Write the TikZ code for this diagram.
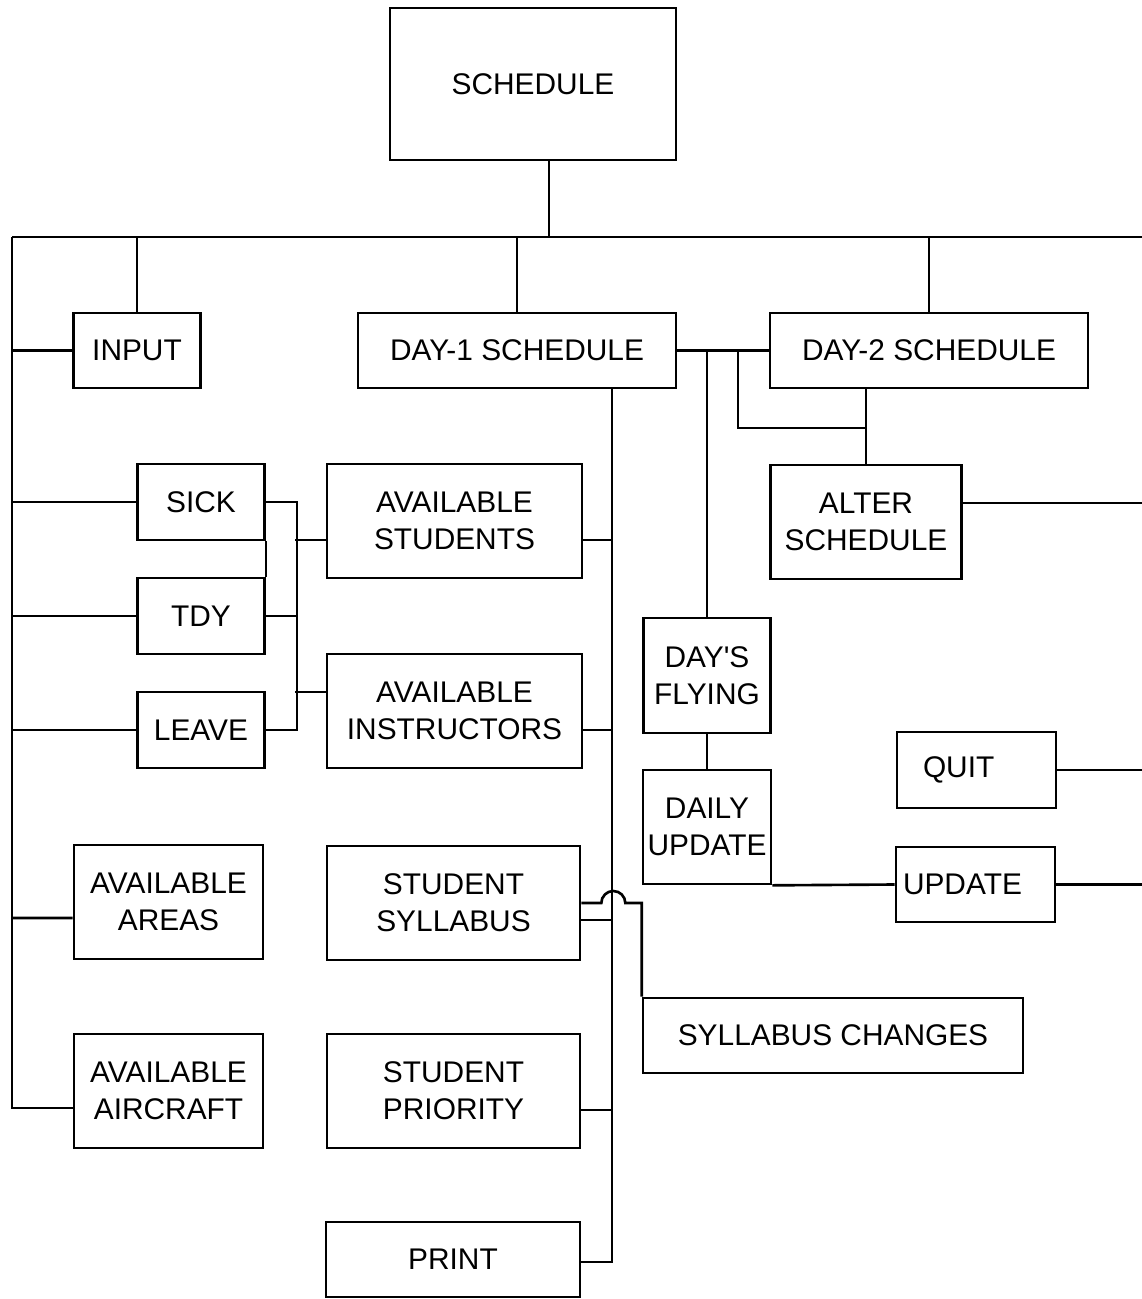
\documentclass[tikz,border=0pt]{standalone}
\usepackage{fontspec}
\setmainfont{Liberation Sans}
\begin{document}
\begin{tikzpicture}[x=0.02cm, y=-0.02cm, line width=1.5pt,
  box/.style={draw, rectangle, inner sep=0pt, align=center, font=\fontsize{17}{21}\selectfont},
  sz/.style 2 args={minimum width=#1*0.02cm, minimum height=#2*0.02cm}]
\useasboundingbox (0, 0) rectangle (1142, 1299);
% boxes
\node [box, sz={286}{152}] (sched) at (533, 84) {SCHEDULE};
\node [box, sz={127}{75}] (input) at (137, 350.5) {INPUT};
\node [box, sz={318}{75}] (dayone) at (517, 350.5) {DAY-1 SCHEDULE};
\node [box, sz={318}{75}] (daytwo) at (929, 350.5) {DAY-2 SCHEDULE};
\node [box, sz={127}{76}] (sick) at (201, 502) {SICK};
\node [box, sz={127}{76}] (tdy) at (201, 616) {TDY};
\node [box, sz={127}{76}] (leave) at (201, 730) {LEAVE};
\node [box, sz={255}{114}] (avstud) at (454.5, 521) {AVAILABLE\\STUDENTS};
\node [box, sz={255}{114}] (avinst) at (454.5, 711) {AVAILABLE\\INSTRUCTORS};
\node [box, sz={189}{114}] (areas) at (168.5, 902) {AVAILABLE\\AREAS};
\node [box, sz={189}{114}] (aircraft) at (168.5, 1091) {AVAILABLE\\AIRCRAFT};
\node [box, sz={253}{114}] (syllabus) at (453.5, 903) {STUDENT\\SYLLABUS};
\node [box, sz={253}{114}] (priority) at (453.5, 1091) {STUDENT\\PRIORITY};
\node [box, sz={254}{75}] (print) at (453, 1259.5) {PRINT};
\node [box, sz={191}{114}] (alter) at (866, 522) {ALTER\\SCHEDULE};
\node [box, sz={127}{115}] (flying) at (707, 675.5) {DAY\textquotesingle S\\FLYING};
\node [box, sz={128}{114}] (daily) at (707, 827) {DAILY\\UPDATE};
\node [box, sz={159}{76}, align=left, inner xsep=26*0.02cm, text width=107*0.02cm] (quit) at (976.5, 770) {QUIT};
\node [box, sz={159}{75}, align=left, inner xsep=7*0.02cm, text width=145*0.02cm] (update) at (975.5, 884.5) {UPDATE};
\node [box, sz={380}{75}] (changes) at (833, 1035.5) {SYLLABUS CHANGES};
% free ends
\coordinate (top) at (549, 237);
\coordinate (busL) at (12, 237);
\coordinate (busR) at (1142, 237);
\coordinate (vb) at (612, 1262);
\coordinate (j2) at (738, 350.5);
\coordinate (j3) at (866, 428);
% main bus
\draw (sched.south -| top) -- (top);
\draw (busL) -- (busR);
\draw (input.north) -- (input.north |- busL);
\draw (dayone.north) -- (dayone.north |- busL);
\draw (daytwo.north) -- (daytwo.north |- busL);
% left spine
\draw (busL) |- ([yshift=-0.34cm]aircraft.west);
\draw (busL |- areas.west) ++(0, 16) -- ([yshift=-0.32cm]areas.west);
\draw (input.west) -- (input.west -| busL);
\draw (sick.west) -- (sick.west -| busL);
\draw (tdy.west) -- (tdy.west -| busL);
\draw (leave.west) -- (leave.west -| busL);
% sick, tdy, leave
\draw (sick.east) -- ++(31, 0) coordinate (sj) |- (leave.east);
\draw (tdy.east) -- (tdy.east -| sj);
\draw (sick.south east) -- (tdy.north east);
\draw ([yshift=-0.38cm]avstud.west) -- ++(-31, 0);
\draw ([yshift=0.38cm]avinst.west) -- ++(-31, 0);
% day-1 bus
\draw (dayone.south -| vb) -- (vb) -- (vb -| print.east);
\draw ([yshift=-0.38cm]avstud.east) -- ++(30, 0);
\draw ([yshift=-0.38cm]avinst.east) -- ++(30, 0);
\draw ([yshift=-0.34cm]syllabus.east) -- ++(32, 0);
\draw ([yshift=-0.38cm]priority.east) -- ++(32, 0);
\draw (syllabus.east) -- ++(20, 0) arc [start angle=180, end angle=0, radius=0.24cm] -| (changes.north west);
% day-2 side
\draw (dayone.east) -- (daytwo.west);
\draw (flying.north |- dayone.east) -- (flying.north);
\draw (j2) |- (j3);
\draw (alter.north |- daytwo.south) -- (alter.north);
\draw ([yshift=0.38cm]alter.east) -- ++(181, 0);
\draw (flying.south) -- (daily.north);
\draw (daily.south east) -- (update.west);
\draw (quit.east) -- (quit.east -| busR);
\draw (update.east) -- (update.east -| busR);
\end{tikzpicture}
\end{document}
